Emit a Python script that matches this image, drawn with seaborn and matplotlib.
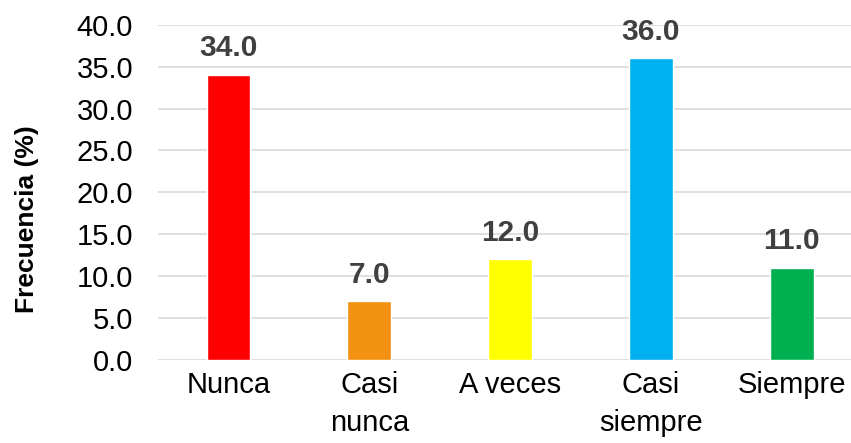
import pandas as pd
import seaborn as sns
import matplotlib.pyplot as plt

categorias = ['Nunca', 'Casi\nnunca', 'A veces', 'Casi\nsiempre', 'Siempre']
frecuencia = [34.0, 7.0, 12.0, 36.0, 11.0]
colores = ['#FF0000', '#F39112', '#FFFF00', '#00B0F0', '#00B050']

sns.set_style('white')
plt.rcParams['font.family'] = ['Liberation Sans', 'DejaVu Sans']

df = pd.DataFrame({'categoria': categorias, 'frecuencia': frecuencia})

fig = plt.figure(figsize=(8.51, 4.43), dpi=100)
ax = fig.add_axes([158 / 851, 83 / 443, 693 / 851, 335.3 / 443])

sns.barplot(
    df,
    x='categoria',
    y='frecuencia',
    hue='categoria',
    palette=colores,
    width=0.31,
    saturation=1,
    legend=False,
    ax=ax,
)

for container in ax.containers:
    ax.bar_label(container, fmt='%.1f', padding=9, fontsize=21.5,
                 fontweight='bold', color='#404040')

ax.set_ylim(0, 40)
ax.set_xlim(-0.5, 4.42)
ax.set_yticks(range(0, 41, 5))
ax.set_yticklabels([f'{v:.1f}' for v in range(0, 41, 5)])
ax.yaxis.grid(True, color='#D9D9D9', linewidth=1.2)
ax.set_axisbelow(True)
ax.tick_params(axis='y', length=0, pad=18, labelsize=21, labelcolor='black')
ax.tick_params(axis='x', length=0, pad=8, labelsize=21, labelcolor='black')
for lbl in ax.get_xticklabels():
    lbl.set_linespacing(1.45)
for s in ax.spines.values():
    s.set_visible(False)

ax.set_xlabel('')
ax.set_ylabel('Frecuencia (%)', fontsize=19, fontweight='bold', color='black')
ax.yaxis.set_label_coords(-0.172, 0.42)

plt.savefig('out.png', dpi=100)
